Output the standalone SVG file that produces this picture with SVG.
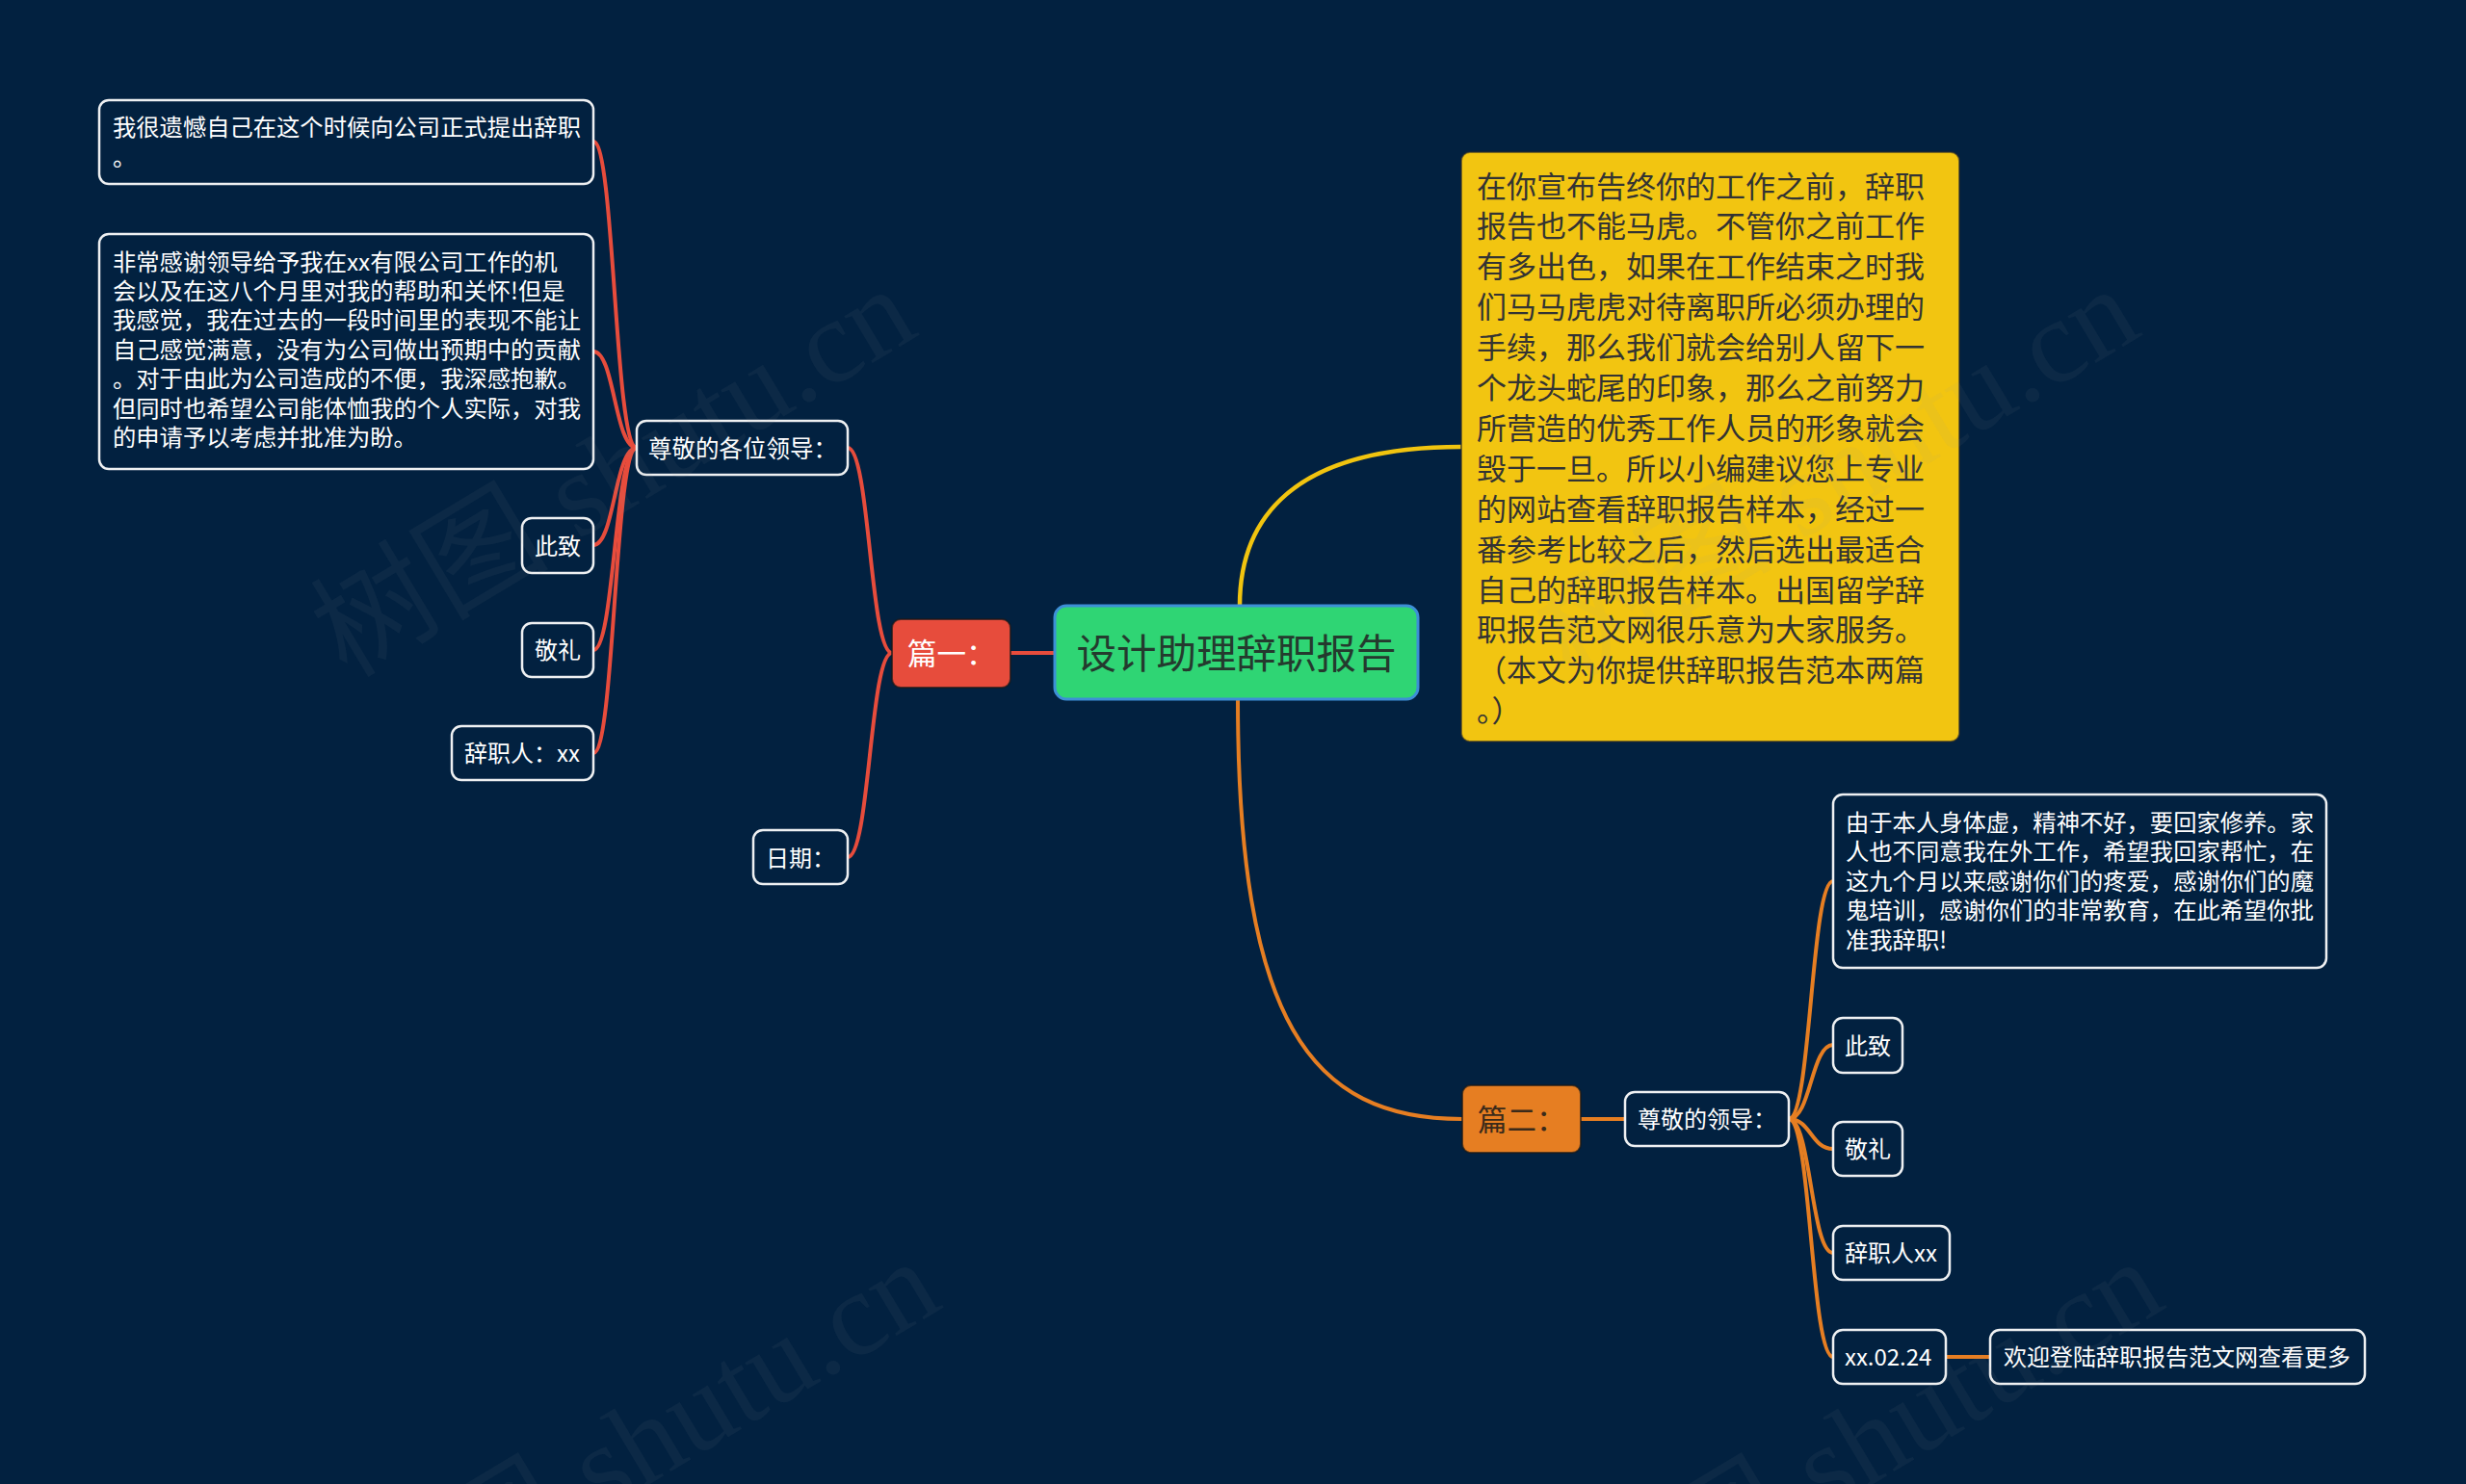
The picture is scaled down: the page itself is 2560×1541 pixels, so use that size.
<svg xmlns="http://www.w3.org/2000/svg" width="2560" height="1541" viewBox="0 0 2560 1541">
<defs>
<style>
.bg{fill:#022140}
.node{fill:#022140;stroke:#eef0f2;stroke-width:2.5}
.t{font-family:"Noto Sans CJK SC","Noto Sans",sans-serif;font-size:24px;fill:#ffffff;dominant-baseline:central}
.tb{font-family:"Noto Sans CJK SC","Noto Sans",sans-serif;font-size:24.3px;fill:#ffffff;dominant-baseline:central}
.ty{font-family:"Noto Sans CJK SC","Noto Sans",sans-serif;font-size:31px;fill:#333333;dominant-baseline:central}
.red{fill:none;stroke:#e74c3c;stroke-width:4;stroke-linecap:round}
.org{fill:none;stroke:#e67e22;stroke-width:4;stroke-linecap:round}
.yel{fill:none;stroke:#f1c40f;stroke-width:4.5;stroke-linecap:round}
.wm{font-family:"Liberation Serif","Noto Sans CJK SC",serif;font-size:124px;fill:#a0a0a0;fill-opacity:0.07}
</style>
</defs>
<rect class="bg" x="0" y="0" width="2560" height="1541"/>

<g id="connectors">
<path class="red" d="M1095 678 L1049 678"/>
<path class="red" d="M926 678 C903 678 903 465 880 465"/>
<path class="red" d="M926 678 C903 678 903 890 880 890"/>
<path class="red" d="M661 465 C638 465 638 147 616 147"/>
<path class="red" d="M661 465 C638 465 638 365 616 365"/>
<path class="red" d="M661 465 C638 465 638 566 616 566"/>
<path class="red" d="M661 465 C638 465 638 675 616 675"/>
<path class="red" d="M661 465 C638 465 638 782 616 782"/>
<path class="yel" d="M1287 629 C1287 540 1340 464 1517 464"/>
<path class="org" d="M1285 726 C1285 1060 1360 1162 1518 1162"/>
<path class="org" d="M1641 1162 L1687 1162"/>
<path class="org" d="M1857 1162 C1880 1162 1880 915 1903 915"/>
<path class="org" d="M1857 1162 C1880 1162 1880 1085 1903 1085"/>
<path class="org" d="M1857 1162 C1880 1162 1880 1193 1903 1193"/>
<path class="org" d="M1857 1162 C1880 1162 1880 1301 1903 1301"/>
<path class="org" d="M1857 1162 C1880 1162 1880 1409 1903 1409"/>
<path class="org" d="M2020 1409 L2066 1409"/>
</g>

<g id="root">
<rect x="1095" y="629" width="377" height="97" rx="12" fill="#2fd574" stroke="#3d8fd6" stroke-width="3"/>
<text x="1283.5" y="676" text-anchor="middle" style="font-family:'Noto Sans CJK SC','Noto Sans',sans-serif;font-size:41.5px;fill:#243a2e;dominant-baseline:central">设计助理辞职报告</text>
</g>

<g id="intro">
<rect x="1517" y="158" width="517" height="612" rx="9" fill="#f2c511" stroke="#2a2a2a" stroke-opacity="0.6" stroke-width="2"/>
<text class="ty" x="1533" y="191">在你宣布告终你的工作之前，辞职</text>
<text class="ty" x="1533" y="232.9">报告也不能马虎。不管你之前工作</text>
<text class="ty" x="1533" y="274.8">有多出色，如果在工作结束之时我</text>
<text class="ty" x="1533" y="316.7">们马马虎虎对待离职所必须办理的</text>
<text class="ty" x="1533" y="358.6">手续，那么我们就会给别人留下一</text>
<text class="ty" x="1533" y="400.5">个龙头蛇尾的印象，那么之前努力</text>
<text class="ty" x="1533" y="442.4">所营造的优秀工作人员的形象就会</text>
<text class="ty" x="1533" y="484.3">毁于一旦。所以小编建议您上专业</text>
<text class="ty" x="1533" y="526.2">的网站查看辞职报告样本，经过一</text>
<text class="ty" x="1533" y="568.1">番参考比较之后，然后选出最适合</text>
<text class="ty" x="1533" y="610">自己的辞职报告样本。出国留学辞</text>
<text class="ty" x="1533" y="651.9">职报告范文网很乐意为大家服务。</text>
<text class="ty" x="1533" y="693.8">（本文为你提供辞职报告范本两篇</text>
<text class="ty" x="1533" y="735.7">。）</text>
</g>

<g id="p1">
<rect x="926" y="643" width="123" height="71" rx="9" fill="#e74c3c" stroke="#1a1a1a" stroke-opacity="0.7" stroke-width="2"/>
<text class="t" x="942" y="677" style="font-size:30.5px">篇一：</text>
</g>
<g id="p1-greet">
<rect class="node" x="661" y="437" width="219" height="56" rx="10"/>
<text class="t" x="673" y="464" style="font-size:24.5px">尊敬的各位领导：</text>
</g>
<g id="p1-date">
<rect class="node" x="782" y="862" width="98" height="56" rx="10"/>
<text class="t" x="795" y="889">日期：</text>
</g>
<g id="p1-text1">
<rect class="node" x="103" y="104" width="513" height="87" rx="10"/>
<text class="tb" x="117" y="130.5">我很遗憾自己在这个时候向公司正式提出辞职</text>
<text class="tb" x="117" y="161.5">。</text>
</g>
<g id="p1-text2">
<rect class="node" x="103" y="243" width="513" height="244" rx="10"/>
<text class="tb" x="117" y="270">非常感谢领导给予我在xx有限公司工作的机</text>
<text class="tb" x="117" y="300.4">会以及在这八个月里对我的帮助和关怀!但是</text>
<text class="tb" x="117" y="330.8">我感觉，我在过去的一段时间里的表现不能让</text>
<text class="tb" x="117" y="361.2">自己感觉满意，没有为公司做出预期中的贡献</text>
<text class="tb" x="117" y="391.6">。对于由此为公司造成的不便，我深感抱歉。</text>
<text class="tb" x="117" y="422">但同时也希望公司能体恤我的个人实际，对我</text>
<text class="tb" x="117" y="452.4">的申请予以考虑并批准为盼。</text>
</g>
<g id="p1-cizhi">
<rect class="node" x="542" y="538" width="74" height="57" rx="10"/>
<text class="t" x="555" y="565">此致</text>
</g>
<g id="p1-jingli">
<rect class="node" x="542" y="647" width="74" height="56" rx="10"/>
<text class="t" x="555" y="673.5">敬礼</text>
</g>
<g id="p1-name">
<rect class="node" x="469" y="754" width="147" height="56" rx="10"/>
<text class="t" x="482" y="780.5">辞职人：xx</text>
</g>

<g id="p2">
<rect x="1518" y="1127" width="123" height="70" rx="9" fill="#e67e22" stroke="#1a1a1a" stroke-opacity="0.7" stroke-width="2"/>
<text class="t" x="1534" y="1160.5" style="font-size:30.5px;fill:#3a2a1a">篇二：</text>
</g>
<g id="p2-greet">
<rect class="node" x="1687" y="1134" width="170" height="56" rx="10"/>
<text class="t" x="1700" y="1160.5">尊敬的领导：</text>
</g>
<g id="p2-text">
<rect class="node" x="1903" y="825" width="512" height="180" rx="10"/>
<text class="tb" x="1916" y="852.5">由于本人身体虚，精神不好，要回家修养。家</text>
<text class="tb" x="1916" y="882.9">人也不同意我在外工作，希望我回家帮忙，在</text>
<text class="tb" x="1916" y="913.3">这九个月以来感谢你们的疼爱，感谢你们的魔</text>
<text class="tb" x="1916" y="943.7">鬼培训，感谢你们的非常教育，在此希望你批</text>
<text class="tb" x="1916" y="974.1">准我辞职!</text>
</g>
<g id="p2-cizhi">
<rect class="node" x="1903" y="1057" width="72" height="57" rx="10"/>
<text class="t" x="1915" y="1084">此致</text>
</g>
<g id="p2-jingli">
<rect class="node" x="1903" y="1165" width="72" height="56" rx="10"/>
<text class="t" x="1915" y="1191.5">敬礼</text>
</g>
<g id="p2-name">
<rect class="node" x="1903" y="1273" width="121" height="56" rx="10"/>
<text class="t" x="1915" y="1299.5">辞职人xx</text>
</g>
<g id="p2-date">
<rect class="node" x="1903" y="1381" width="117" height="56" rx="10"/>
<text class="t" x="1915" y="1407.5">xx.02.24</text>
</g>
<g id="p2-more">
<rect class="node" x="2066" y="1381" width="389" height="56" rx="10"/>
<text class="t" x="2080" y="1407.5">欢迎登陆辞职报告范文网查看更多</text>
</g>

<g id="watermarks">
<text class="wm" transform="translate(360 705) rotate(-31)">树图 shutu.cn</text>
<text class="wm" transform="translate(1630 705) rotate(-31)">树图 shutu.cn</text>
<text class="wm" transform="translate(385 1715) rotate(-31)">树图 shutu.cn</text>
<text class="wm" transform="translate(1655 1715) rotate(-31)">树图 shutu.cn</text>
</g>
</svg>
